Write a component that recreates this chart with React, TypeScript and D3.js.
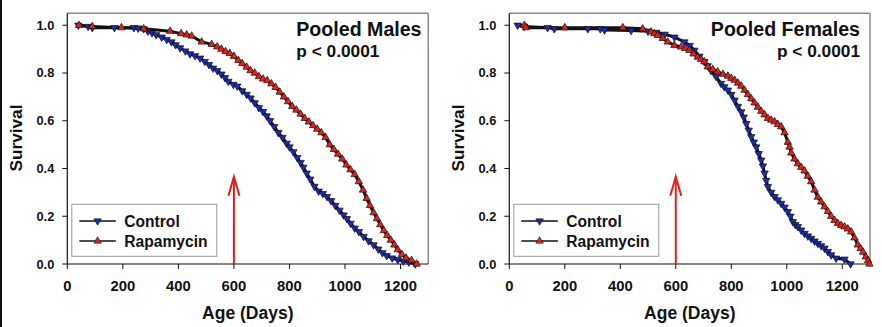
import React from "react";
import * as d3 from "d3";

type Pt = [number, number];

// Pooled males
const maleControl: Pt[] = [
  [40, 1.0], [75, 0.995], [90, 0.99], [170, 0.99], [240, 0.99], [255, 0.988], [275, 0.985],
  [290, 0.975], [305, 0.968], [320, 0.96], [340, 0.95], [358, 0.94], [375, 0.93], [390, 0.918],
  [406, 0.905], [425, 0.892], [442, 0.88], [460, 0.872], [478, 0.862], [495, 0.848], [510, 0.835],
  [525, 0.82], [540, 0.81], [555, 0.795], [568, 0.78], [580, 0.765], [598, 0.752], [612, 0.745],
  [630, 0.725], [646, 0.71], [660, 0.695], [675, 0.675], [690, 0.655], [705, 0.638], [718, 0.62],
  [730, 0.6], [745, 0.575], [760, 0.55], [775, 0.53], [790, 0.505], [800, 0.49], [814, 0.47],
  [828, 0.445], [840, 0.425], [850, 0.405], [862, 0.38], [875, 0.355], [890, 0.325], [905, 0.305],
  [920, 0.295], [935, 0.282], [950, 0.265], [965, 0.245], [980, 0.225], [995, 0.205], [1007, 0.19],
  [1020, 0.17], [1035, 0.15], [1050, 0.135], [1067, 0.115], [1085, 0.097], [1103, 0.08],
  [1120, 0.062], [1135, 0.047], [1150, 0.035], [1170, 0.025], [1190, 0.018], [1210, 0.012],
  [1230, 0.008], [1253, 0.0],
];
const maleRapa: Pt[] = [
  [42, 1.0], [90, 0.995], [195, 0.99], [275, 0.985], [370, 0.975], [410, 0.965], [430, 0.96],
  [448, 0.955], [484, 0.93], [520, 0.92], [540, 0.91], [555, 0.9], [570, 0.89], [585, 0.882],
  [600, 0.87], [616, 0.853], [630, 0.84], [646, 0.825], [660, 0.81], [675, 0.8], [690, 0.785],
  [705, 0.775], [720, 0.768], [735, 0.755], [750, 0.74], [765, 0.72], [780, 0.7], [795, 0.68],
  [810, 0.66], [825, 0.645], [840, 0.628], [855, 0.61], [870, 0.595], [885, 0.58], [900, 0.565],
  [915, 0.55], [930, 0.53], [945, 0.5], [960, 0.48], [975, 0.46], [990, 0.44], [1005, 0.415],
  [1020, 0.395], [1035, 0.375], [1050, 0.345], [1065, 0.31], [1078, 0.275], [1090, 0.245],
  [1103, 0.215], [1115, 0.19], [1127, 0.165], [1140, 0.14], [1152, 0.12], [1165, 0.1],
  [1178, 0.08], [1190, 0.06], [1205, 0.04], [1220, 0.025], [1240, 0.015], [1258, 0.0],
];

// Pooled females
const femaleControl: Pt[] = [
  [30, 1.0], [54, 0.995], [138, 0.99], [162, 0.985], [283, 0.985], [328, 0.985], [343, 0.98],
  [439, 0.978], [500, 0.975], [530, 0.97], [560, 0.962], [595, 0.95], [631, 0.93], [650, 0.915],
  [667, 0.895], [685, 0.87], [703, 0.847], [715, 0.83], [727, 0.81], [745, 0.785], [763, 0.756],
  [775, 0.742], [788, 0.728], [800, 0.71], [812, 0.686], [824, 0.66], [836, 0.637], [845, 0.615],
  [854, 0.588], [863, 0.56], [872, 0.533], [881, 0.51], [890, 0.49], [899, 0.462], [908, 0.435],
  [914, 0.41], [920, 0.38], [926, 0.35], [932, 0.324], [944, 0.3], [956, 0.282], [968, 0.268],
  [980, 0.254], [992, 0.238], [1004, 0.219], [1013, 0.2], [1022, 0.177], [1031, 0.165],
  [1040, 0.156], [1052, 0.142], [1064, 0.128], [1076, 0.117], [1088, 0.107], [1100, 0.096],
  [1112, 0.086], [1124, 0.076], [1136, 0.066], [1148, 0.052], [1160, 0.038], [1178, 0.024],
  [1208, 0.02], [1230, 0.0],
];
const femaleRapa: Pt[] = [
  [54, 1.0], [60, 0.99], [200, 0.99], [409, 0.99], [481, 0.985], [511, 0.972], [523, 0.965],
  [535, 0.958], [553, 0.945], [571, 0.93], [595, 0.916], [619, 0.909], [634, 0.903], [649, 0.895],
  [664, 0.88], [679, 0.867], [691, 0.857], [703, 0.847], [715, 0.826], [733, 0.815], [751, 0.805],
  [770, 0.795], [788, 0.787], [800, 0.778], [812, 0.77], [824, 0.758], [836, 0.745], [848, 0.728],
  [860, 0.71], [872, 0.692], [884, 0.675], [896, 0.657], [908, 0.64], [920, 0.625], [932, 0.61],
  [944, 0.603], [956, 0.596], [968, 0.585], [980, 0.575], [992, 0.55], [1004, 0.51], [1010, 0.49],
  [1016, 0.465], [1028, 0.44], [1040, 0.42], [1052, 0.405], [1064, 0.39], [1076, 0.368],
  [1088, 0.345], [1100, 0.31], [1112, 0.28], [1124, 0.26], [1136, 0.24], [1148, 0.22],
  [1160, 0.2], [1172, 0.183], [1184, 0.17], [1196, 0.162], [1208, 0.156], [1220, 0.147],
  [1232, 0.135], [1244, 0.11], [1256, 0.08], [1266, 0.065], [1275, 0.05], [1285, 0.03],
  [1293, 0.015], [1298, 0.0],
];

const xTicks = [0, 200, 400, 600, 800, 1000, 1200];
const yTicks = [0, 0.2, 0.4, 0.6, 0.8, 1.0];
const titles = ["Pooled Males", "Pooled Females"];
const pText = "p < 0.0001";
const legendLabels = ["Control", "Rapamycin"];
const treatmentStartDay = 600;

const FONT = "'Liberation Sans', Arial, Helvetica, sans-serif";
const RED = "#e3201b";
const BLUE = "#1c2bb0";

const TOP = 13.3;
const BOTTOM = 264;

const triUp = d3.symbol().type(d3.symbolTriangle).size(24)() as string;

function Markers({ data, x, y, color, down }: any) {
  return (
    <g>
      {data.map((d: Pt, i: number) => (
        <path
          key={i}
          d={triUp}
          transform={`translate(${x(d[0])},${y(d[1])})${down ? " rotate(180)" : ""}`}
          fill={color}
          stroke="#111"
          strokeWidth={0.7}
        />
      ))}
    </g>
  );
}

function Panel({ left, right, control, rapa, title, titleAnchor }: any) {
  const x = d3.scaleLinear().domain([0, 1300]).range([left, right]);
  const y = d3.scaleLinear().domain([0, 1.05]).range([BOTTOM, TOP]);
  const line = d3
    .line<Pt>()
    .x((d) => x(d[0]))
    .y((d) => y(d[1]));
  const fmt = d3.format(".1f");
  const titleX = titleAnchor === "start" ? left + 229 : right - 10;
  const legX = left + 4.5;
  const legY = 204.3;
  const ax = x(treatmentStartDay);
  const arrowTop = 176.7;
  return (
    <g fontFamily={FONT} fontWeight="bold">
      {/* frame */}
      <line x1={left} x2={right} y1={TOP} y2={TOP} stroke="#8a8a8a" strokeWidth={1.5} />
      <line x1={right} x2={right} y1={TOP} y2={BOTTOM} stroke="#8a8a8a" strokeWidth={1.5} />
      <line x1={left} x2={left} y1={TOP} y2={BOTTOM} stroke="#111" strokeWidth={1.2} />
      <line x1={left} x2={right} y1={BOTTOM} y2={BOTTOM} stroke="#111" strokeWidth={1.2} />
      {yTicks.map((t) => (
        <g key={t}>
          <line x1={left - 5} x2={left} y1={y(t)} y2={y(t)} stroke="#111" strokeWidth={1} />
          <text x={left - 13} y={y(t) + 4.5} textAnchor="end" fontSize={12.8} fill="#111">
            {fmt(t)}
          </text>
        </g>
      ))}
      {xTicks.map((t) => (
        <g key={t}>
          <line x1={x(t)} x2={x(t)} y1={BOTTOM} y2={BOTTOM + 5} stroke="#111" strokeWidth={1} />
          <text x={x(t)} y={290.5} textAnchor="middle" fontSize={14.8} fill="#111">
            {t}
          </text>
        </g>
      ))}
      <text
        transform={`translate(${left - 45.5},138) rotate(-90)`}
        textAnchor="middle"
        fontSize={17.2}
        fill="#111"
      >
        Survival
      </text>
      <text x={left + 180.5} y={318.5} textAnchor="middle" fontSize={17.5} fill="#111">
        Age (Days)
      </text>
      {/* curves */}
      <path d={line(control) as string} fill="none" stroke="#111" strokeWidth={3} />
      <path d={line(rapa) as string} fill="none" stroke="#111" strokeWidth={3} />
      <Markers data={control} x={x} y={y} color={BLUE} down />
      <Markers data={rapa} x={x} y={y} color={RED} />
      {/* title */}
      <text x={titleX} y={35.5} textAnchor={titleAnchor} fontSize={19.6} fill="#111">
        {title}
      </text>
      <text x={titleX} y={57} textAnchor={titleAnchor} fontSize={17.3} fill="#111">
        {pText}
      </text>
      {/* arrow */}
      <line x1={ax} x2={ax} y1={BOTTOM} y2={arrowTop + 1} stroke={RED} strokeWidth={2} />
      <polyline
        points={`${ax - 5.5},${arrowTop + 19} ${ax},${arrowTop} ${ax + 5.5},${arrowTop + 19}`}
        fill="none"
        stroke={RED}
        strokeWidth={2}
      />
      {/* legend */}
      <rect x={legX} y={legY} width={145} height={52} fill="#fff" stroke="#9a9a9a" strokeWidth={1} />
      {legendLabels.map((lab, i) => {
        const ly = legY + 16.7 + i * 20;
        return (
          <g key={lab}>
            <line x1={legX + 7.5} x2={legX + 44} y1={ly} y2={ly} stroke="#111" strokeWidth={1.5} />
            <path
              d={triUp}
              transform={`translate(${legX + 25.8},${ly})${i === 0 ? " rotate(180)" : ""}`}
              fill={i === 0 ? BLUE : RED}
              stroke="#111"
              strokeWidth={0.6}
            />
            <text x={legX + 52.5} y={ly + 5.5} fontSize={15.6} fill="#111">
              {lab}
            </text>
          </g>
        );
      })}
    </g>
  );
}

export default function App() {
  return (
    <svg
      width={882}
      height={327}
      style={{ position: "absolute", left: 0, top: 0, background: "#fff" }}
    >
      <rect x={0} y={0} width={882} height={327} fill="#fff" />
      <rect x={0} y={0} width={2} height={327} fill="#111" />
      <Panel
        left={67.3}
        right={428.3}
        control={maleControl}
        rapa={maleRapa}
        title={titles[0]}
        titleAnchor="start"
      />
      <Panel
        left={509.3}
        right={870}
        control={femaleControl}
        rapa={femaleRapa}
        title={titles[1]}
        titleAnchor="end"
      />
    </svg>
  );
}
